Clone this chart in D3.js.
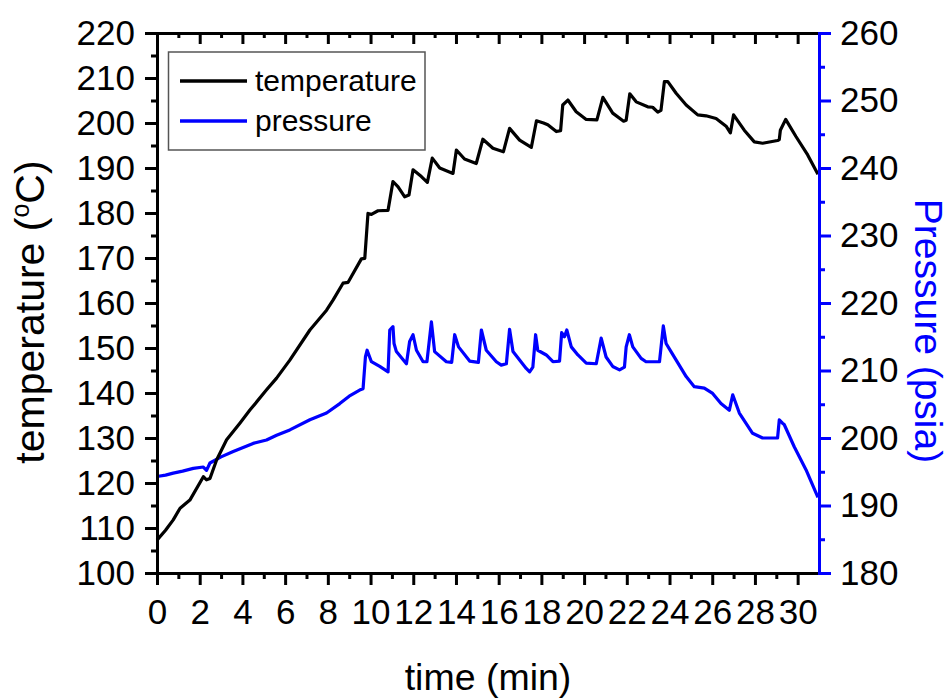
<!DOCTYPE html>
<html>
<head>
<meta charset="utf-8">
<script src="https://d3js.org/d3.v7.min.js"></script>
<style>
  body { margin: 0; background: #fff; }
  svg { display: block; font-family: "Liberation Sans", Arial, sans-serif; }
</style>
</head>
<body>
<svg id="chart" width="951" height="698"></svg>
<script>
// ---- data ----
const tempTime = [0, 0.4, 0.76, 1.08, 1.54, 2.17, 2.32, 2.48, 2.79, 3.26, 3.88, 4.35, 5.13, 5.6, 6.22, 7.16, 7.94, 8.25, 8.71, 8.95, 9.57, 9.73, 9.88, 10.04, 10.35, 10.82, 11.05, 11.29, 11.6, 11.8, 11.99, 12.38, 12.66, 12.89, 13.24, 13.86, 14.02, 14.4, 14.95, 15.26, 15.73, 16.22, 16.51, 16.98, 17.53, 17.77, 18.1, 18.3, 18.7, 18.9, 19.0, 19.24, 19.63, 20.1, 20.6, 20.88, 21.34, 21.85, 21.97, 22.14, 22.44, 22.98, 23.21, 23.45, 23.6, 23.76, 23.92, 24.31, 24.78, 25.32, 25.71, 26.18, 26.65, 26.85, 27.0, 27.5, 27.97, 28.36, 29.06, 29.14, 29.19, 29.44, 29.92, 30.47, 30.95];
const tempValue = [107.3, 109.5, 111.8, 114.4, 116.2, 121.4, 120.7, 121.0, 125.1, 129.6, 133.3, 136.2, 140.7, 143.3, 147.3, 154.0, 158.4, 160.7, 164.4, 164.6, 169.8, 169.9, 179.9, 179.7, 180.5, 180.6, 187.0, 185.8, 183.6, 184.0, 189.6, 188.1, 186.8, 192.2, 190.0, 188.8, 194.0, 192.0, 191.0, 196.4, 194.4, 193.6, 198.8, 196.2, 194.6, 200.5, 200.0, 199.6, 198.1, 198.3, 204.0, 205.1, 202.5, 200.8, 200.7, 205.7, 202.2, 200.4, 200.6, 206.5, 204.7, 203.6, 203.5, 202.4, 202.8, 209.2, 209.2, 206.6, 204.0, 201.8, 201.6, 201.0, 199.3, 197.8, 201.8, 198.4, 195.8, 195.5, 196.1, 196.3, 198.4, 200.8, 197.0, 192.9, 188.6];

const presTime = [0, 0.4, 0.76, 1.2, 1.7, 2.17, 2.32, 2.48, 3.0, 3.57, 4.5, 5.13, 5.6, 6.22, 7.16, 7.94, 8.56, 9.0, 9.49, 9.65, 9.76, 9.84, 10.04, 10.43, 10.82, 10.9, 11.05, 11.1, 11.21, 11.68, 11.83, 11.99, 12.15, 12.46, 12.64, 12.85, 13.0, 13.55, 13.8, 13.94, 14.12, 14.64, 15.05, 15.19, 15.42, 15.89, 16.12, 16.36, 16.51, 16.67, 17.29, 17.45, 17.6, 17.73, 17.83, 18.23, 18.54, 18.85, 18.95, 19.08, 19.19, 19.4, 19.71, 20.1, 20.57, 20.8, 21.03, 21.34, 21.66, 21.89, 21.97, 22.12, 22.28, 22.67, 22.9, 23.53, 23.71, 23.84, 24.07, 24.78, 25.16, 25.63, 26.02, 26.41, 26.8, 26.96, 27.27, 27.89, 28.36, 29.06, 29.14, 29.29, 29.37, 29.84, 30.39, 30.95];
const presValue = [194.3, 194.5, 194.8, 195.1, 195.5, 195.7, 195.2, 196.3, 197.2, 198.0, 199.2, 199.7, 200.4, 201.2, 202.7, 203.7, 205.1, 206.2, 207.1, 207.3, 212.0, 213.0, 211.3, 210.6, 209.8, 216.0, 216.5, 214.0, 212.8, 211.0, 214.3, 215.3, 213.0, 211.3, 211.3, 217.2, 212.8, 211.3, 211.2, 215.3, 213.5, 211.4, 211.2, 216.0, 213.0, 211.3, 210.8, 211.0, 216.1, 212.8, 210.3, 209.8, 210.5, 215.3, 213.0, 212.3, 211.3, 211.4, 215.6, 215.0, 216.0, 213.5, 212.3, 211.1, 211.0, 214.8, 212.0, 210.6, 210.1, 210.5, 213.5, 215.3, 213.5, 211.8, 211.3, 211.3, 216.6, 214.0, 212.8, 209.1, 207.6, 207.4, 206.6, 205.1, 204.1, 206.4, 203.7, 200.7, 200.0, 200.0, 202.7, 202.2, 202.0, 198.7, 195.3, 191.2];

const xTicks = [0, 2, 4, 6, 8, 10, 12, 14, 16, 18, 20, 22, 24, 26, 28, 30];
const xMinorTicks = d3.range(1, 31, 2);
const tempTicks = [100, 110, 120, 130, 140, 150, 160, 170, 180, 190, 200, 210, 220];
const tempMinorTicks = d3.range(105, 220, 10);
const presTicks = [180, 190, 200, 210, 220, 230, 240, 250, 260];
const presMinorTicks = d3.range(185, 260, 10);
const seriesNames = ["temperature", "pressure"];
const seriesColors = ["#000000", "#0000ff"];

// ---- layout ----
const svg = d3.select("#chart");
const pLeft = 157, pRight = 819, pTop = 33, pBottom = 573;
const x = d3.scaleLinear().domain([0, 31]).range([pLeft, pRight]);
const yT = d3.scaleLinear().domain([100, 220]).range([pBottom, pTop]);
const yP = d3.scaleLinear().domain([180, 260]).range([pBottom, pTop]);
const tickFont = 35;

function styleAxis(g, color) {
  g.select(".domain").attr("stroke", color).attr("stroke-width", 3).attr("stroke-linecap", "square");
  g.selectAll(".tick line").attr("stroke", color).attr("stroke-width", 3);
  g.selectAll(".tick text").attr("fill", "#000").style("font-size", tickFont + "px")
    .style("font-family", '"Liberation Sans", Arial, sans-serif');
}

// data lines (drawn first, axes on top)
const tempData = tempTime.map((t, i) => [t, tempValue[i]]);
const presData = presTime.map((t, i) => [t, presValue[i]]);
svg.append("path").datum(presData)
  .attr("fill", "none").attr("stroke", seriesColors[1]).attr("stroke-width", 3.2)
  .attr("stroke-linejoin", "round")
  .attr("d", d3.line().x(d => x(d[0])).y(d => yP(d[1])));
svg.append("path").datum(tempData)
  .attr("fill", "none").attr("stroke", seriesColors[0]).attr("stroke-width", 3.2)
  .attr("stroke-linejoin", "round")
  .attr("d", d3.line().x(d => x(d[0])).y(d => yT(d[1])));

// bottom axis
svg.append("g").attr("transform", `translate(0,${pBottom})`)
  .call(d3.axisBottom(x).tickValues(xMinorTicks).tickSize(6).tickSizeOuter(0).tickFormat(""))
  .call(g => styleAxis(g, "#000"));
svg.append("g").attr("transform", `translate(0,${pBottom})`)
  .call(d3.axisBottom(x).tickValues(xTicks).tickSize(12).tickPadding(14).tickSizeOuter(0).tickFormat(d3.format("d")))
  .call(g => styleAxis(g, "#000"));

// top axis (ticks inward, no labels)
svg.append("g").attr("transform", `translate(0,${pTop})`)
  .call(d3.axisBottom(x).tickValues(xMinorTicks).tickSize(5).tickSizeOuter(0).tickFormat(""))
  .call(g => styleAxis(g, "#000"));
svg.append("g").attr("transform", `translate(0,${pTop})`)
  .call(d3.axisBottom(x).tickValues(xTicks).tickSize(11).tickSizeOuter(0).tickFormat(""))
  .call(g => styleAxis(g, "#000"));

// left axis
svg.append("g").attr("transform", `translate(${pLeft},0)`)
  .call(d3.axisLeft(yT).tickValues(tempMinorTicks).tickSize(6).tickSizeOuter(0).tickFormat(""))
  .call(g => styleAxis(g, "#000"));
svg.append("g").attr("transform", `translate(${pLeft},0)`)
  .call(d3.axisLeft(yT).tickValues(tempTicks).tickSize(12).tickPadding(10).tickSizeOuter(0).tickFormat(d3.format("d")))
  .call(g => styleAxis(g, "#000"));

// right axis (blue)
svg.append("g").attr("transform", `translate(${pRight},0)`)
  .call(d3.axisRight(yP).tickValues(presMinorTicks).tickSize(6).tickSizeOuter(0).tickFormat(""))
  .call(g => styleAxis(g, "#0000ff"));
svg.append("g").attr("transform", `translate(${pRight},0)`)
  .call(d3.axisRight(yP).tickValues(presTicks).tickSize(12).tickPadding(9).tickSizeOuter(0).tickFormat(d3.format("d")))
  .call(g => styleAxis(g, "#0000ff"));

// axis titles
svg.append("text").attr("x", 488).attr("y", 690).attr("text-anchor", "middle")
  .style("font-size", "37.5px").attr("fill", "#000").text("time (min)");

const lt = svg.append("text").attr("transform", "translate(44,312) rotate(-90)")
  .attr("text-anchor", "middle").style("font-size", "41px").attr("fill", "#000");
lt.append("tspan").text("temperature (");
lt.append("tspan").attr("dy", -15).style("font-size", "25px").text("o");
lt.append("tspan").attr("dy", 15).text("C)");

svg.append("text").attr("transform", "translate(915,331) rotate(90)")
  .attr("text-anchor", "middle").style("font-size", "39px").attr("fill", "#0000ff")
  .text("Pressure (psia)");

// legend
const lg = svg.append("g");
lg.append("rect").attr("x", 168.5).attr("y", 52).attr("width", 256.5).attr("height", 98)
  .attr("fill", "#fff").attr("stroke", "#555").attr("stroke-width", 1.5);
seriesNames.forEach((name, i) => {
  const yy = 81 + i * 40;
  lg.append("line").attr("x1", 180).attr("x2", 247).attr("y1", yy).attr("y2", yy)
    .attr("stroke", seriesColors[i]).attr("stroke-width", 3.5);
  lg.append("text").attr("x", 255).attr("y", yy + 10).style("font-size", "30px")
    .attr("fill", "#000").text(name);
});
</script>
</body>
</html>
